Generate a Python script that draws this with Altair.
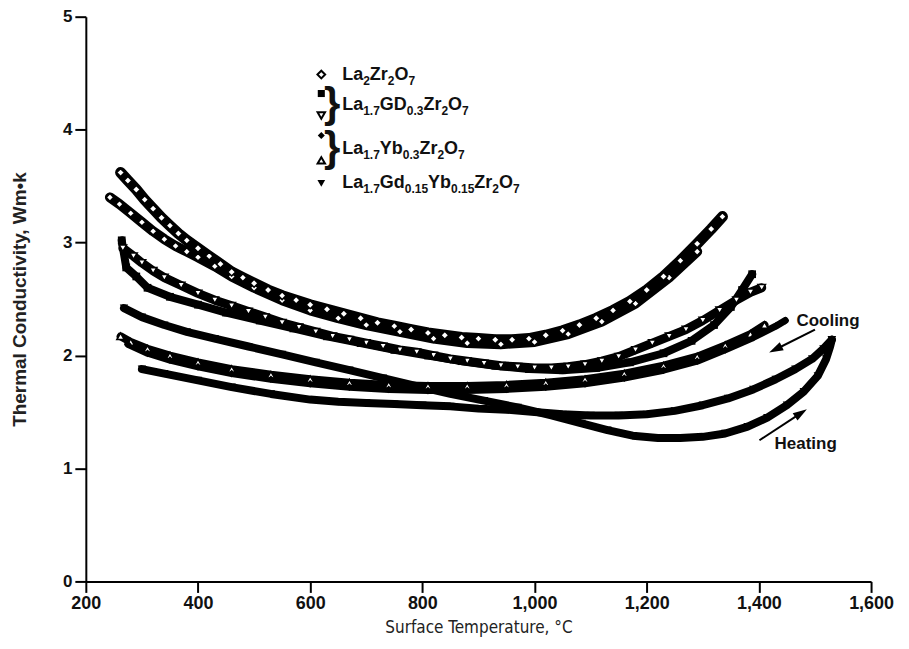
import math
import altair as alt
import pandas as pd

# ---------------- data ----------------
# La2Zr2O7 (open diamonds), two runs
la2_a_T = [262,275,290,305,320,335,350,365,380,400,420,440,460,480,500,525,550,575,600,630,660,690,720,750,780,810,840,870,900,930,960,990,1020,1050,1080,1110,1140,1170,1200,1230,1260,1290,1315,1335]
la2_a_k = [3.62,3.55,3.47,3.38,3.30,3.22,3.15,3.08,3.02,2.95,2.88,2.81,2.74,2.69,2.64,2.58,2.53,2.49,2.45,2.41,2.37,2.33,2.29,2.26,2.23,2.20,2.18,2.16,2.15,2.14,2.14,2.15,2.18,2.22,2.27,2.33,2.40,2.48,2.58,2.70,2.84,2.99,3.12,3.23]
la2_b_T = [243,260,280,300,320,340,360,380,400,430,460,500,550,600,650,700,760,820,880,940,1000,1060,1120,1180,1240,1290]
la2_b_k = [3.40,3.34,3.26,3.18,3.10,3.03,2.97,2.92,2.87,2.79,2.70,2.60,2.49,2.40,2.33,2.27,2.21,2.15,2.11,2.10,2.12,2.19,2.30,2.46,2.69,2.92]

# La1.7Gd0.3Zr2O7: open down-triangles run and filled squares run
gd_open_T = [266,285,300,320,340,370,400,430,460,490,520,550,580,610,640,670,700,730,760,790,820,850,880,910,940,970,1000,1030,1060,1090,1120,1150,1180,1210,1240,1270,1300,1330,1360,1385,1405]
gd_open_k = [2.95,2.88,2.82,2.75,2.69,2.62,2.55,2.49,2.44,2.39,2.34,2.29,2.25,2.21,2.17,2.14,2.11,2.08,2.05,2.03,2.00,1.97,1.95,1.93,1.91,1.90,1.89,1.89,1.90,1.92,1.95,1.99,2.05,2.11,2.17,2.23,2.31,2.40,2.49,2.56,2.60]
gd_fill_T = [264,272,290,310,350,400,450,510,570,630,690,750,810,870,930,990,1050,1110,1170,1230,1280,1320,1350,1370,1388]
gd_fill_k = [3.02,2.78,2.70,2.60,2.52,2.45,2.38,2.31,2.24,2.17,2.11,2.05,2.00,1.95,1.91,1.88,1.87,1.89,1.94,2.02,2.13,2.27,2.43,2.58,2.72]

# La1.7Yb0.3Zr2O7: filled diamonds run and open triangles run
yb_fill_T = [275,310,350,400,460,530,600,670,740,810,880,950,1020,1090,1160,1230,1290,1340,1390,1430,1447]
yb_fill_k = [2.10,2.02,1.96,1.90,1.84,1.79,1.75,1.72,1.70,1.69,1.69,1.70,1.72,1.75,1.80,1.87,1.95,2.05,2.16,2.26,2.31]
yb_open_T = [262,280,310,350,400,460,530,600,670,740,810,880,950,1020,1090,1160,1230,1290,1340,1385,1410]
yb_open_k = [2.17,2.12,2.06,2.00,1.94,1.88,1.83,1.79,1.76,1.74,1.73,1.73,1.74,1.76,1.79,1.84,1.91,1.99,2.09,2.19,2.27]

# La1.7Gd0.15Yb0.15Zr2O7 (filled down-triangles): heating and cooling
gdyb_heat_T = [268,300,340,380,430,490,550,610,670,730,790,850,910,970,1030,1084,1130,1175,1220,1260,1300,1340,1380,1415,1450,1480,1505,1520,1527,1530]
gdyb_heat_k = [2.42,2.34,2.27,2.21,2.15,2.08,2.01,1.94,1.87,1.80,1.73,1.66,1.60,1.54,1.47,1.40,1.34,1.29,1.27,1.27,1.28,1.31,1.37,1.45,1.56,1.68,1.82,1.97,2.08,2.14]
gdyb_cool_T = [1530,1515,1495,1465,1430,1390,1345,1300,1250,1200,1150,1100,1050,1000,950,900,850,800,750,700,650,600,530,460,400,340,300]
gdyb_cool_k = [2.14,2.06,1.97,1.88,1.79,1.70,1.62,1.56,1.51,1.48,1.47,1.47,1.48,1.50,1.52,1.53,1.55,1.56,1.57,1.58,1.59,1.61,1.66,1.72,1.78,1.84,1.88]

x_ticks = [200, 400, 600, 800, 1000, 1200, 1400, 1600]
y_ticks = [0, 1, 2, 3, 4, 5]

ann_text = ["Cooling", "Heating"]
ann_T = [1467, 1428]
ann_k = [2.31, 1.22]
arrow_T0 = [1500, 1401]
arrow_k0 = [2.23, 1.25]
arrow_T1 = [1420, 1484]
arrow_k1 = [2.03, 1.52]

legend_labels = [
    [("La", 0), ("2", 1), ("Zr", 0), ("2", 1), ("O", 0), ("7", 1)],
    [("La", 0), ("1.7", 1), ("GD", 0), ("0.3", 1), ("Zr", 0), ("2", 1), ("O", 0), ("7", 1)],
    [("La", 0), ("1.7", 1), ("Yb", 0), ("0.3", 1), ("Zr", 0), ("2", 1), ("O", 0), ("7", 1)],
    [("La", 0), ("1.7", 1), ("Gd", 0), ("0.15", 1), ("Yb", 0), ("0.15", 1), ("Zr", 0), ("2", 1), ("O", 0), ("7", 1)],
]

# ---------------- layout ----------------
W, H = 787, 566
LEFT, TOP = 86, 16  # plot origin in page pixels
XMIN, XMAX, YMIN, YMAX = 200, 1600, 0, 5
SX = W / (XMAX - XMIN)
SY = H / (YMAX - YMIN)

xscale = alt.Scale(domain=[XMIN, XMAX], nice=False, zero=False)
yscale = alt.Scale(domain=[YMIN, YMAX], nice=False, zero=False)

FONT = "Liberation Sans"
COND = "DejaVu Sans Condensed, Liberation Sans Narrow, Open Sans"

xaxis = alt.Axis(values=x_ticks, format=",d", title="Surface Temperature, °C", grid=False,
                 domainColor="black", domainWidth=2, tickColor="black", tickWidth=2, tickSize=11,
                 labelFont=FONT, labelFontSize=18, labelFontWeight="bold", labelColor="#111111",
                 labelPadding=2, labelFlush=False, labelOverlap=False,
                 titleFont=COND, titleFontSize=17, titleFontWeight="normal", titleColor="#222222",
                 titlePadding=7)
yaxis = alt.Axis(values=y_ticks, format="d", title="Thermal Conductivity, Wm\u2022k", grid=False,
                 domainColor="black", domainWidth=2, tickColor="black", tickWidth=2, tickSize=11,
                 labelFont=FONT, labelFontSize=17, labelFontWeight="bold", labelColor="#111111",
                 labelPadding=3, labelOverlap=False,
                 titleFont=FONT, titleFontSize=19, titleFontWeight="bold", titleColor="#222222",
                 titleX=-66, titleY=H / 2, titleAlign="center", titleBaseline="middle")

X = alt.X("T:Q", scale=xscale, axis=xaxis)
Y = alt.Y("k:Q", scale=yscale, axis=yaxis)

series = [
    (la2_b_T, la2_b_k, "diamond", False, 10, 60),
    (la2_a_T, la2_a_k, "diamond", False, 11, 64),
    (gd_open_T, gd_open_k, "triangle-down", False, 9, 55),
    (gd_fill_T, gd_fill_k, "square", True, 8, 60),
    (yb_open_T, yb_open_k, "triangle-up", False, 8, 55),
    (yb_fill_T, yb_fill_k, "diamond", True, 7, 60),
    (gdyb_heat_T, gdyb_heat_k, "triangle-down", True, 8, 70),
    (gdyb_cool_T, gdyb_cool_k, "triangle-down", True, 8, 70),
]

layers = []
for T, K, shape, filled, lw, size in series:
    df = pd.DataFrame({"T": T, "k": K, "i": list(range(len(T)))})
    layers.append(alt.Chart(df).mark_line(color="black", strokeWidth=lw, strokeJoin="round",
                                          strokeCap="round").encode(x=X, y=Y, order="i:Q"))
for T, K, shape, filled, lw, size in series:
    df = pd.DataFrame({"T": T, "k": K})
    if filled:
        pm = alt.Chart(df).mark_point(shape=shape, filled=True, color="black", size=size, opacity=1)
    else:
        pm = alt.Chart(df).mark_point(shape=shape, filled=True, fill="white", stroke="black",
                                      strokeWidth=1.6, size=size, opacity=1)
    layers.append(pm.encode(x=X, y=Y))

# annotations: Cooling / Heating with arrows
ann_df = pd.DataFrame({"T": ann_T, "k": ann_k, "label": ann_text})
layers.append(alt.Chart(ann_df).mark_text(font=FONT, fontSize=17, fontWeight="bold", align="left",
                                          baseline="middle", color="#111111")
              .encode(x=X, y=Y, text="label:N"))

arr_rows = []
for t0, k0, t1, k1 in zip(arrow_T0, arrow_k0, arrow_T1, arrow_k1):
    dx = (t1 - t0) * SX
    dy = -(k1 - k0) * SY
    L = math.hypot(dx, dy)
    ang = math.degrees(math.atan2(dx, -dy)) % 360
    back = 7.0
    hT = t1 - (dx / L) * back / SX
    hk = k1 + (dy / L) * back / SY
    arr_rows.append({"T": t0, "k": k0, "T2": hT, "k2": hk, "ang": ang})
arr_df = pd.DataFrame(arr_rows)
layers.append(alt.Chart(arr_df).mark_rule(color="black", strokeWidth=2)
              .encode(x=X, y=Y, x2="T2:Q", y2="k2:Q"))
layers.append(alt.Chart(arr_df).mark_point(shape="M0,-1L0.55,0.75L-0.55,0.75Z", filled=True, color="black",
                                           size=260, opacity=1)
              .encode(x=alt.X("T2:Q", scale=xscale, axis=xaxis), y=alt.Y("k2:Q", scale=yscale, axis=yaxis),
                      angle=alt.Angle("ang:Q", scale=None)))

# ---------------- in-plot legend ----------------
one = pd.DataFrame({"d": [0]})
CW = {"L": .611, "a": .556, "Z": .611, "r": .389, "O": .778, "G": .778, "D": .722, "Y": .667,
      "b": .611, "d": .611, ".": .278}


def sym(xp, yp, shape, filled, size):
    if filled:
        m = alt.Chart(one).mark_point(shape=shape, filled=True, color="black", size=size, opacity=1)
    else:
        m = alt.Chart(one).mark_point(shape=shape, filled=True, fill="white", stroke="black",
                                      strokeWidth=2, size=size, opacity=1)
    return m.encode(x=alt.value(xp - LEFT), y=alt.value(yp - TOP))


def label(parts, x0, yb):
    out = []
    x = x0
    for txt, sub in parts:
        fs = 12 if sub else 18
        yy = yb + 5 if sub else yb
        out.append(alt.Chart(one).mark_text(text=txt, font=FONT, fontSize=fs, fontWeight="bold",
                                            align="left", baseline="alphabetic", color="#111111")
                   .encode(x=alt.value(x - LEFT), y=alt.value(yy - TOP)))
        x += sum(CW.get(c, 0.556) for c in txt) * fs
    return out


def brace(xp, yc):
    return alt.Chart(one).mark_text(text="}", font=FONT, fontSize=42, fontWeight="bold",
                                    align="center", baseline="middle", color="#111111") \
        .encode(x=alt.value(xp - LEFT), y=alt.value(yc - TOP))


layers += [
    sym(322, 74, "diamond", False, 60),
    sym(322, 93, "square", True, 50),
    sym(322, 115, "triangle-down", False, 55),
    sym(322, 135, "diamond", True, 50),
    sym(322, 160, "triangle-up", False, 55),
    sym(322, 183, "triangle-down", True, 60),
    brace(333, 104),
    brace(333, 148),
]
for parts, yb in zip(legend_labels, [79, 110, 154, 188]):
    layers += label(parts, 343, yb)

chart = alt.layer(*layers).properties(
    width=W, height=H,
    autosize=alt.AutoSizeParams(type="none"),
    padding={"left": LEFT - 8, "top": TOP - 8, "right": 30, "bottom": 58},
    background="white",
).configure_view(stroke=None)

chart.save("out.html", embed_options={"renderer": "svg", "actions": False})
